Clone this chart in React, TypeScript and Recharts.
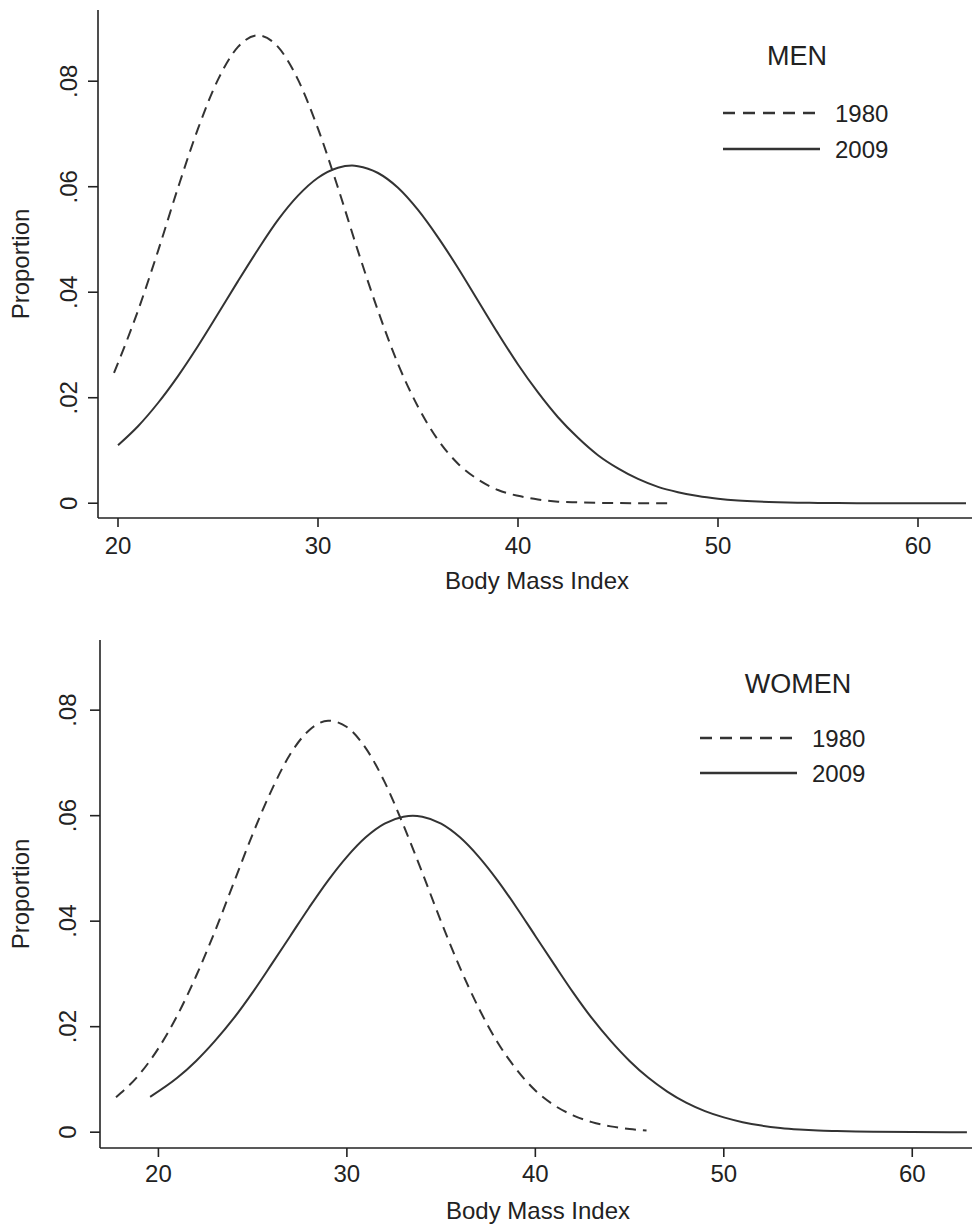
import React from 'react';
import { LineChart, Line, XAxis, YAxis, CartesianGrid, Label } from 'recharts';

const FONT = '"Liberation Sans", Arial, Helvetica, sans-serif';
const INK = '#222';
const LINE = '#333';

const xTicks = [20, 30, 40, 50, 60];
const yTicks = [0, 0.02, 0.04, 0.06, 0.08];
const yTickLabels = ['0', '.02', '.04', '.06', '.08'];
const xTitle = 'Body Mass Index';
const yTitle = 'Proportion';
const seriesNames = ['1980', '2009'];
const panelTitles = ['MEN', 'WOMEN'];

// MEN 1980 (dashed)
const menX1980 = [19.8, 21, 22, 23, 24, 25, 26, 27, 28, 29, 30, 31, 32, 33, 34, 35, 36, 37, 38, 39, 40, 41, 42, 43, 44, 45, 46, 47.5];
const menY1980 = [0.0247, 0.0365, 0.0478, 0.0598, 0.071, 0.0803, 0.0865, 0.0887, 0.0865, 0.0803, 0.071, 0.0598, 0.0478, 0.0365, 0.0264, 0.0183, 0.012, 0.0075, 0.0045, 0.0025, 0.0014, 0.0007, 0.0003, 0.00016, 0.00007, 0.00003, 0.00001, 0];

// MEN 2009 (solid)
const menX2009 = [20, 21, 22, 23, 24, 25, 26, 27, 28, 29, 30, 31, 31.7, 32, 33, 34, 35, 36, 37, 38, 39, 40, 41, 42, 43, 44, 45, 46, 47, 48, 49, 50, 51, 52, 53, 54, 55, 56, 58, 60, 62.4];
const menY2009 = [0.011, 0.0146, 0.019, 0.0241, 0.0298, 0.0359, 0.0421, 0.0481, 0.0537, 0.0583, 0.0617, 0.0636, 0.064, 0.0639, 0.0626, 0.0598, 0.0556, 0.0504, 0.0446, 0.0384, 0.0322, 0.0263, 0.021, 0.0163, 0.0124, 0.0091, 0.0066, 0.0046, 0.0031, 0.0021, 0.00135, 0.00086, 0.00053, 0.00032, 0.00019, 0.0001, 0.00006, 0.00003, 0.00001, 0, 0];

// WOMEN 1980 (dashed)
const womenX1980 = [17.75, 19, 20, 21, 22, 23, 24, 25, 26, 27, 28, 29, 30, 31, 32, 33, 34, 35, 36, 37, 38, 39, 40, 41, 42, 43, 44, 45, 45.9];
const womenY1980 = [0.0066, 0.011, 0.0159, 0.0221, 0.0296, 0.0381, 0.0473, 0.0565, 0.0648, 0.0717, 0.0762, 0.078, 0.0768, 0.0728, 0.0664, 0.0582, 0.0492, 0.0399, 0.0312, 0.0235, 0.017, 0.0119, 0.0079, 0.0051, 0.0032, 0.0019, 0.0011, 0.0006, 0.0003];

// WOMEN 2009 (solid)
const womenX2009 = [19.56, 21, 22, 23, 24, 25, 26, 27, 28, 29, 30, 31, 32, 33, 33.5, 34, 35, 36, 37, 38, 39, 40, 41, 42, 43, 44, 45, 46, 47, 48, 49, 50, 51, 52, 53, 54, 55, 56, 57, 58, 60, 62.9];
const womenY2009 = [0.0067, 0.0103, 0.0135, 0.0173, 0.0216, 0.0265, 0.0318, 0.0372, 0.0426, 0.0477, 0.0522, 0.0559, 0.0585, 0.0598, 0.06, 0.0598, 0.0585, 0.0559, 0.0522, 0.0477, 0.0426, 0.0372, 0.0318, 0.0265, 0.0216, 0.0173, 0.0135, 0.0103, 0.0077, 0.0056, 0.004, 0.0028, 0.0019, 0.00125, 0.0008, 0.0005, 0.0003, 0.0002, 0.00012, 0.00007, 0.00002, 0];

const toPoints = (xs: number[], ys: number[]) => xs.map((x, i) => ({ x, y: ys[i] }));

const makeYTick = (shift: number) => (props: any) => {
  const { x, y, payload } = props;
  const idx = yTicks.indexOf(payload.value);
  const label = idx >= 0 ? yTickLabels[idx] : String(payload.value);
  const bx = x - shift;
  return (
    <text x={bx} y={y} transform={`rotate(-90 ${bx} ${y})`} textAnchor="middle" fontSize={24} fill={INK} fontFamily={FONT}>
      {label}
    </text>
  );
};

const gridRows = (gp: any) => {
  const sc = gp && gp.yAxis && gp.yAxis.scale;
  if (typeof sc === 'function') return yTicks.map((t) => sc(t));
  return [];
};

type PanelProps = {
  width: number;
  height: number;
  top: number;
  yAxisWidth: number;
  xAxisHeight: number;
  xDomain: [number, number];
  yDomain: [number, number];
  xTickMargin: number;
  yTickShift: number;
  d1980: { x: number; y: number }[];
  d2009: { x: number; y: number }[];
};

const Panel = (p: PanelProps) => (
  <LineChart
    width={p.width}
    height={p.height}
    margin={{ top: p.top, right: 0, bottom: 0, left: 0 }}
    style={{ fontFamily: FONT }}
  >
    <CartesianGrid
      horizontal
      vertical={false}
      stroke="#e3eef1"
      strokeWidth={1.5}
      horizontalCoordinatesGenerator={gridRows}
    />
    <XAxis
      type="number"
      dataKey="x"
      domain={p.xDomain}
      ticks={xTicks}
      allowDataOverflow
      height={p.xAxisHeight}
      tickSize={9}
      tickMargin={p.xTickMargin}
      axisLine={{ stroke: INK, strokeWidth: 1.6 }}
      tickLine={{ stroke: INK, strokeWidth: 1.6 }}
      tick={{ fontSize: 24, fill: INK, fontFamily: FONT }}
    >
      <Label
        content={(lp: any) => {
          const vb = lp.viewBox || {};
          return (
            <text x={vb.x + vb.width / 2 + 2} y={vb.y + 71} textAnchor="middle" fontSize={24} fill={INK} fontFamily={FONT}>
              {xTitle}
            </text>
          );
        }}
      />
    </XAxis>
    <YAxis
      type="number"
      dataKey="y"
      domain={p.yDomain}
      ticks={yTicks}
      allowDataOverflow
      width={p.yAxisWidth}
      tickSize={10}
      tickMargin={2}
      axisLine={{ stroke: INK, strokeWidth: 1.6 }}
      tickLine={{ stroke: INK, strokeWidth: 1.6 }}
      tick={makeYTick(p.yTickShift)}
    >
      <Label
        content={(lp: any) => {
          const vb = lp.viewBox || {};
          const cx = 29;
          const cy = vb.y + vb.height / 2;
          return (
            <text x={cx} y={cy} transform={`rotate(-90 ${cx} ${cy})`} textAnchor="middle" fontSize={24} fill={INK} fontFamily={FONT}>
              {yTitle}
            </text>
          );
        }}
      />
    </YAxis>
    <Line
      data={p.d1980}
      dataKey="y"
      type="monotone"
      stroke={LINE}
      strokeWidth={2}
      strokeDasharray="11 7"
      dot={false}
      activeDot={false}
      isAnimationActive={false}
    />
    <Line
      data={p.d2009}
      dataKey="y"
      type="monotone"
      stroke={LINE}
      strokeWidth={2}
      dot={false}
      activeDot={false}
      isAnimationActive={false}
    />
  </LineChart>
);

type LegendProps = {
  title: string;
  titleX: number;
  titleY: number;
  lineX1: number;
  lineX2: number;
  textX: number;
  y1: number;
  y2: number;
};

const LegendOverlay = (l: LegendProps) => (
  <svg width={972} height={614} style={{ position: 'absolute', left: 0, top: 0, pointerEvents: 'none' }}>
    <text x={l.titleX} y={l.titleY + 10} textAnchor="middle" fontSize={27} fill={INK} fontFamily={FONT}>
      {l.title}
    </text>
    <line x1={l.lineX1} x2={l.lineX2} y1={l.y1} y2={l.y1} stroke={LINE} strokeWidth={2.5} strokeDasharray="12 8" />
    <text x={l.textX} y={l.y1 + 8.5} fontSize={24} fill={INK} fontFamily={FONT}>
      {seriesNames[0]}
    </text>
    <line x1={l.lineX1} x2={l.lineX2} y1={l.y2} y2={l.y2} stroke={LINE} strokeWidth={2.5} />
    <text x={l.textX} y={l.y2 + 8.5} fontSize={24} fill={INK} fontFamily={FONT}>
      {seriesNames[1]}
    </text>
  </svg>
);

export default function App() {
  return (
    <div style={{ position: 'absolute', left: 0, top: 0, width: 972, height: 1228, background: '#fff', fontFamily: FONT }}>
      <div style={{ position: 'absolute', left: 0, top: 0, width: 972, height: 614 }}>
        <Panel
          width={972}
          height={614}
          top={10}
          yAxisWidth={98}
          xAxisHeight={96}
          xDomain={[19.0, 62.7]}
          yDomain={[-0.0028, 0.0935]}
          xTickMargin={9.5}
          yTickShift={9}
          d1980={toPoints(menX1980, menY1980)}
          d2009={toPoints(menX2009, menY2009)}
        />
        <LegendOverlay title={panelTitles[0]} titleX={797} titleY={55} lineX1={723} lineX2={820} textX={835} y1={113} y2={149} />
      </div>
      <div style={{ position: 'absolute', left: 0, top: 614, width: 972, height: 614 }}>
        <Panel
          width={972}
          height={614}
          top={26}
          yAxisWidth={100}
          xAxisHeight={80}
          xDomain={[16.9, 63.17]}
          yDomain={[-0.003, 0.0933]}
          xTickMargin={7.5}
          yTickShift={12}
          d1980={toPoints(womenX1980, womenY1980)}
          d2009={toPoints(womenX2009, womenY2009)}
        />
        <LegendOverlay title={panelTitles[1]} titleX={798} titleY={69} lineX1={700} lineX2={797} textX={812} y1={124} y2={159} />
      </div>
    </div>
  );
}
